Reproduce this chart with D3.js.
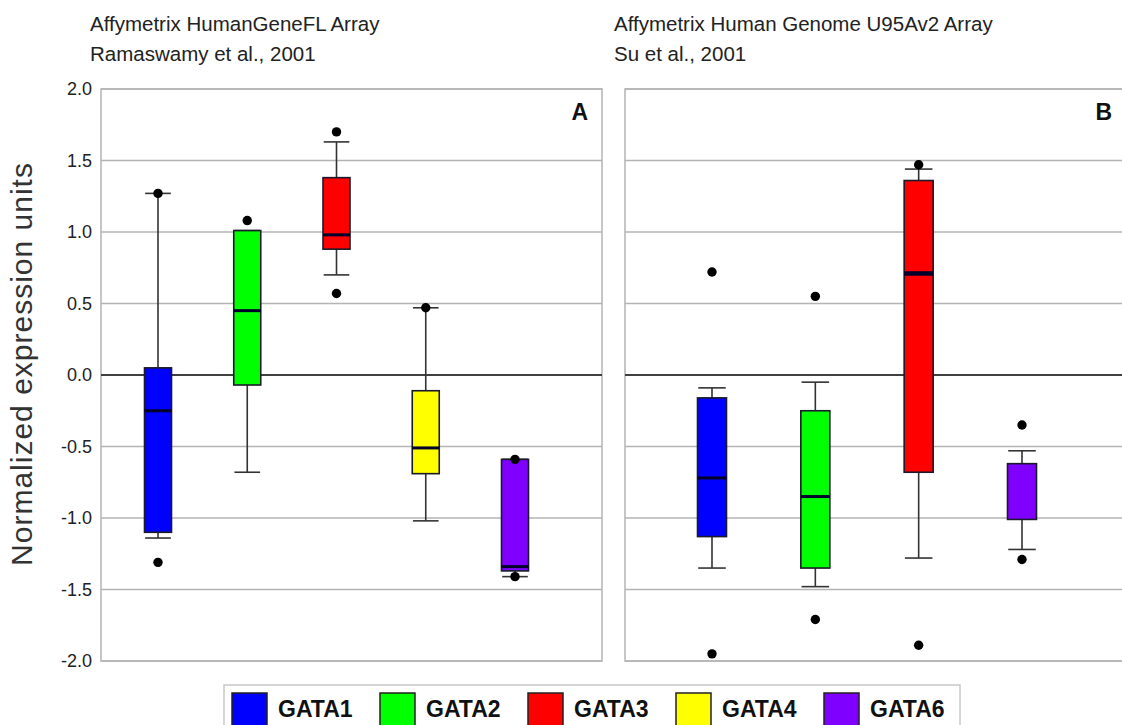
<!DOCTYPE html>
<html>
<head>
<meta charset="utf-8">
<script src="https://cdn.jsdelivr.net/npm/d3@7"></script>
<style>
  body { margin: 0; background: #fff; }
  svg { display: block; font-family: "Liberation Sans", Arial, sans-serif; }
</style>
</head>
<body>
<div id="chart"></div>
<script>
// gene colours (legend order)
const genes = ["GATA1", "GATA2", "GATA3", "GATA4", "GATA6"];
const geneColors = ["#0000ff", "#00ff00", "#ff0000", "#ffff00", "#7f00ff"];

const yTicks = [2.0, 1.5, 1.0, 0.5, 0.0, -0.5, -1.0, -1.5, -2.0];

// panel A - HumanGeneFL (Ramaswamy 2001)
const aGenes = ["GATA1", "GATA2", "GATA3", "GATA4", "GATA6"];
const aLow = [-1.14, -0.68, 0.70, -1.02, -1.41];
const aQ1 = [-1.10, -0.07, 0.88, -0.69, -1.37];
const aMed = [-0.25, 0.45, 0.98, -0.51, -1.34];
const aQ3 = [0.05, 1.01, 1.38, -0.11, -0.59];
const aHigh = [1.27, 1.01, 1.63, 0.47, -0.59];
const aOut = [[1.27, -1.31], [1.08], [1.70, 0.57], [0.47], [-0.59, -1.41]];

// panel B - U95Av2 (Su 2001), no GATA4
const bGenes = ["GATA1", "GATA2", "GATA3", "GATA6"];
const bLow = [-1.35, -1.48, -1.28, -1.22];
const bQ1 = [-1.13, -1.35, -0.68, -1.01];
const bMed = [-0.72, -0.85, 0.71, null];
const bQ3 = [-0.16, -0.25, 1.36, -0.62];
const bHigh = [-0.09, -0.05, 1.44, -0.53];
const bOut = [[0.72, -1.95], [0.55, -1.71], [1.47, -1.89], [-0.35, -1.29]];

const width = 1122, height = 725;

const color = d3.scaleOrdinal().domain(genes).range(geneColors);

const y = d3.scaleLinear().domain([-2, 2]).range([661, 89]);

const svg = d3.select("#chart").append("svg")
    .attr("width", width)
    .attr("height", height);

const panels = [
    {
        left: 101, right: 602, letter: "A", boxW: 27,
        xRange: [158, 515],
        title: ["Affymetrix HumanGeneFL Array", "Ramaswamy et al., 2001"],
        cats: aGenes, low: aLow, q1: aQ1, med: aMed, q3: aQ3, high: aHigh, out: aOut
    },
    {
        left: 625, right: 1126, letter: "B", boxW: 29,
        xRange: [712, 1022],
        title: ["Affymetrix Human Genome U95Av2 Array", "Su et al., 2001"],
        cats: bGenes, low: bLow, q1: bQ1, med: bMed, q3: bQ3, high: bHigh, out: bOut
    }
];

panels.forEach(p => {
    const g = svg.append("g");
    const x = d3.scalePoint().domain(p.cats).range(p.xRange);

    // titles
    g.selectAll(".title")
        .data(p.title)
        .enter()
        .append("text")
        .attr("x", p.left - 11)
        .attr("y", (d, i) => 31 + i * 30)
        .attr("font-size", 20.5)
        .attr("fill", "#222")
        .text(d => d);

    // grid
    g.selectAll(".grid")
        .data(yTicks.filter(t => t !== 0))
        .enter()
        .append("line")
        .attr("x1", p.left).attr("x2", p.right)
        .attr("y1", d => y(d)).attr("y2", d => y(d))
        .attr("stroke", "#b4b4b4")
        .attr("stroke-width", 1.5);

    g.append("rect")
        .attr("x", p.left).attr("y", y(2))
        .attr("width", p.right - p.left)
        .attr("height", y(-2) - y(2))
        .attr("fill", "none")
        .attr("stroke", "#b4b4b4")
        .attr("stroke-width", 1.5);

    g.append("line")
        .attr("x1", p.left).attr("x2", p.right)
        .attr("y1", y(0)).attr("y2", y(0))
        .attr("stroke", "#404040")
        .attr("stroke-width", 2);

    g.append("text")
        .attr("x", p.right - 14)
        .attr("y", y(2) + 31)
        .attr("text-anchor", "end")
        .attr("font-size", 23)
        .attr("font-weight", "bold")
        .attr("fill", "#111")
        .text(p.letter);

    const rows = p.cats.map((c, i) => ({
        cat: c, low: p.low[i], q1: p.q1[i], med: p.med[i],
        q3: p.q3[i], high: p.high[i], out: p.out[i]
    }));

    const box = g.selectAll(".box")
        .data(rows)
        .enter()
        .append("g")
        .attr("transform", d => `translate(${x(d.cat)},0)`);

    const cap = p.boxW * 0.95;

    // whiskers
    box.append("line")
        .attr("x1", 0).attr("x2", 0)
        .attr("y1", d => y(d.high)).attr("y2", d => y(d.q3))
        .attr("stroke", "#333").attr("stroke-width", 1.6);
    box.append("line")
        .attr("x1", 0).attr("x2", 0)
        .attr("y1", d => y(d.q1)).attr("y2", d => y(d.low))
        .attr("stroke", "#333").attr("stroke-width", 1.6);
    box.append("line")
        .attr("x1", -cap / 2).attr("x2", cap / 2)
        .attr("y1", d => y(d.high)).attr("y2", d => y(d.high))
        .attr("stroke", "#333").attr("stroke-width", 1.6);
    box.append("line")
        .attr("x1", -cap / 2).attr("x2", cap / 2)
        .attr("y1", d => y(d.low)).attr("y2", d => y(d.low))
        .attr("stroke", "#333").attr("stroke-width", 1.6);

    box.append("rect")
        .attr("x", -p.boxW / 2)
        .attr("width", p.boxW)
        .attr("y", d => y(d.q3))
        .attr("height", d => y(d.q1) - y(d.q3))
        .attr("fill", d => color(d.cat))
        .attr("stroke", "#1a1a2a")
        .attr("stroke-width", 1.6);

    box.filter(d => d.med !== null)
        .append("line")
        .attr("x1", -p.boxW / 2).attr("x2", p.boxW / 2)
        .attr("y1", d => y(d.med)).attr("y2", d => y(d.med))
        .attr("stroke", "#00002a")
        .attr("stroke-width", d => d.cat === "GATA3" && p.letter === "B" ? 4.5 : 3);

    box.selectAll("circle")
        .data(d => d.out)
        .enter()
        .append("circle")
        .attr("cx", 0)
        .attr("cy", d => y(d))
        .attr("r", 4.7)
        .attr("fill", "#000");
});

// y axis labels (left panel only)
const fmt = d => d3.format(".1f")(d).replace("\u2212", "-");

svg.append("g")
    .selectAll("text")
    .data(yTicks)
    .enter()
    .append("text")
    .attr("x", 92)
    .attr("y", d => y(d))
    .attr("dy", "0.35em")
    .attr("text-anchor", "end")
    .attr("font-size", 18)
    .attr("fill", "#222")
    .text(fmt);

svg.append("text")
    .attr("transform", "translate(32,364) rotate(-90)")
    .attr("text-anchor", "middle")
    .attr("font-size", 30)
    .attr("letter-spacing", 1)
    .attr("fill", "#333")
    .text("Normalized expression units");

// legend
const legend = svg.append("g");
legend.append("rect")
    .attr("x", 224).attr("y", 685)
    .attr("width", 736).attr("height", 60)
    .attr("fill", "#fff")
    .attr("stroke", "#c8c8c8")
    .attr("stroke-width", 1.5);

const lx = d3.scalePoint().domain(genes).range([232, 824]);

const item = legend.selectAll(".item")
    .data(genes)
    .enter()
    .append("g")
    .attr("transform", d => `translate(${lx(d)},693)`);

item.append("rect")
    .attr("width", 35).attr("height", 35)
    .attr("fill", d => color(d))
    .attr("stroke", "#222")
    .attr("stroke-width", 1.5);

item.append("text")
    .attr("x", 46)
    .attr("y", 24)
    .attr("font-size", 23)
    .attr("font-weight", "bold")
    .attr("fill", "#111")
    .text(d => d);
</script>
</body>
</html>
